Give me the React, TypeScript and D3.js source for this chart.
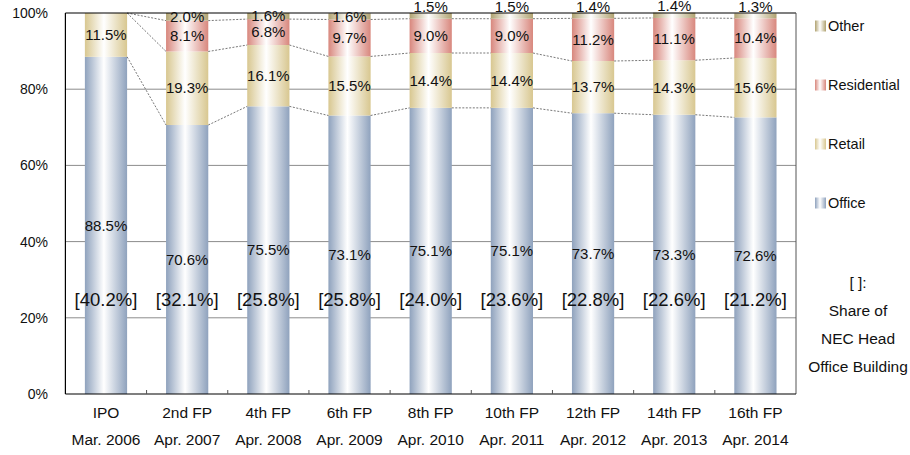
import React from "react";
import * as d3 from "d3";

const categories = ["IPO", "2nd FP", "4th FP", "6th FP", "8th FP", "10th FP", "12th FP", "14th FP", "16th FP"];
const dates = ["Mar. 2006", "Apr. 2007", "Apr. 2008", "Apr. 2009", "Apr. 2010", "Apr. 2011", "Apr. 2012", "Apr. 2013", "Apr. 2014"];
const office = [88.5, 70.6, 75.5, 73.1, 75.1, 75.1, 73.7, 73.3, 72.6];
const retail = [11.5, 19.3, 16.1, 15.5, 14.4, 14.4, 13.7, 14.3, 15.6];
const residential = [0, 8.1, 6.8, 9.7, 9.0, 9.0, 11.2, 11.1, 10.4];
const other = [0, 2.0, 1.6, 1.6, 1.5, 1.5, 1.4, 1.4, 1.3];
const necShare = [40.2, 32.1, 25.8, 25.8, 24.0, 23.6, 22.8, 22.6, 21.2];
const yTicks = [0, 20, 40, 60, 80, 100];
const seriesNames = ["Office", "Retail", "Residential", "Other"];
const seriesData = [office, retail, residential, other];
const seriesColors = ["#8fa2bd", "#d8c790", "#d8877d", "#b0a270"];
const noteLines = ["[ ]:", "Share of", "NEC Head", "Office Building"];

const W = 910, H = 455;
const M = { left: 65.4, right: 796, top: 13, bottom: 394 };
const FONT = "'Liberation Sans', Arial, Helvetica, sans-serif";

export default function App() {
  const x = d3.scaleBand<string>().domain(categories).range([M.left, M.right]).paddingInner(0.48).paddingOuter(0.24);
  const y = d3.scaleLinear().domain([0, 100]).range([M.bottom, M.top]);
  const bw = x.bandwidth();

  const table = categories.map((c, i) => {
    const row: any = { cat: c };
    seriesNames.forEach((s, k) => (row[s] = seriesData[k][i]));
    return row;
  });
  const stacked = d3.stack().keys(seriesNames)(table);

  const step = x.step();
  const tickXs = categories.slice(1).map((c) => (x(c) as number) - (step - bw) / 2);

  return (
    <svg width={W} height={H} style={{ position: "absolute", left: 0, top: 0, background: "#fff" }} fontFamily={FONT}>
      <defs>
        {seriesNames.map((s, k) => (
          <linearGradient key={s} id={`g${k}`} x1="0" x2="1" y1="0" y2="0">
            <stop offset="0" stopColor={seriesColors[k]} />
            <stop offset="0.45" stopColor="#ffffff" />
            <stop offset="1" stopColor={seriesColors[k]} />
          </linearGradient>
        ))}
      </defs>
      <rect x={0} y={0} width={W} height={H} fill="#fff" />
      {yTicks.filter((t) => t > 0 && t < 100).map((t) => (
        <line key={t} x1={M.left} x2={M.right} y1={y(t)} y2={y(t)} stroke="#8c8c8c" strokeWidth={1} />
      ))}
      {stacked.map((layer, k) => (
        <g key={layer.key}>
          {layer.map((d, i) =>
            d[1] - d[0] > 0 ? (
              <rect key={i} x={x(categories[i])} y={y(d[1])} width={bw} height={y(d[0]) - y(d[1])} fill={`url(#g${k})`} />
            ) : null
          )}
        </g>
      ))}
      {stacked.slice(0, 3).map((layer) => (
        <g key={"c" + layer.key}>
          {layer.slice(0, -1).map((d, i) => (
            <line
              key={i}
              x1={(x(categories[i]) as number) + bw}
              x2={x(categories[i + 1]) as number}
              y1={y(d[1])}
              y2={y(layer[i + 1][1])}
              stroke="#555"
              strokeWidth={0.8}
              strokeDasharray="2,1.5"
            />
          ))}
        </g>
      ))}
      <line x1={M.left} x2={M.right} y1={M.top} y2={M.top} stroke="#000" strokeWidth={1.2} />
      <line x1={M.right} x2={M.right} y1={M.top} y2={M.bottom} stroke="#555" strokeWidth={1} />
      <line x1={M.left} x2={M.left} y1={M.top} y2={M.bottom} stroke="#000" strokeWidth={1.2} />
      <line x1={M.left} x2={M.right} y1={M.bottom} y2={M.bottom} stroke="#000" strokeWidth={1.2} />
      {tickXs.map((tx, i) => (
        <line key={i} x1={tx} x2={tx} y1={M.bottom} y2={M.bottom - 4} stroke="#555" strokeWidth={1} />
      ))}
      {yTicks.map((t) => (
        <text key={t} x={48} y={y(t)} dy="0.35em" textAnchor="end" fontSize={14} fill="#111">
          {t}%
        </text>
      ))}
      {categories.map((c, i) => (
        <g key={c}>
          <text x={(x(c) as number) + bw / 2} y={413} dy="0.35em" textAnchor="middle" fontSize={15.5} fill="#111">{c}</text>
          <text x={(x(c) as number) + bw / 2} y={440} dy="0.35em" textAnchor="middle" fontSize={15.5} fill="#111">{dates[i]}</text>
        </g>
      ))}
      {stacked.map((layer) => (
        <g key={"l" + layer.key}>
          {layer.map((d, i) => {
            const v = d[1] - d[0];
            if (v <= 0) return null;
            const h = y(d[0]) - y(d[1]);
            const cy = h < 6 ? y(d[1]) - 6.5 : (y(d[0]) + y(d[1])) / 2;
            return (
              <text key={i} x={(x(categories[i]) as number) + bw / 2} y={cy} dy="0.35em" textAnchor="middle" fontSize={15} fill="#111">
                {v.toFixed(1)}%
              </text>
            );
          })}
        </g>
      ))}
      {necShare.map((v, i) => (
        <text key={i} x={(x(categories[i]) as number) + bw / 2} y={300} dy="0.35em" textAnchor="middle" fontSize={18.5} fill="#111">
          [{v.toFixed(1)}%]
        </text>
      ))}
      {[3, 2, 1, 0].map((k, j) => (
        <g key={k} transform={`translate(815, ${26 + j * 59})`}>
          <rect x={0} y={-5.5} width={11} height={11} fill={`url(#g${k})`} />
          <text x={13} y={0} dy="0.35em" fontSize={14.5} fill="#111">{seriesNames[k]}</text>
        </g>
      ))}
      {noteLines.map((t, i) => (
        <text key={i} x={858} y={283 + i * 28} dy="0.35em" textAnchor="middle" fontSize={15.5} fill="#111">{t}</text>
      ))}
    </svg>
  );
}
